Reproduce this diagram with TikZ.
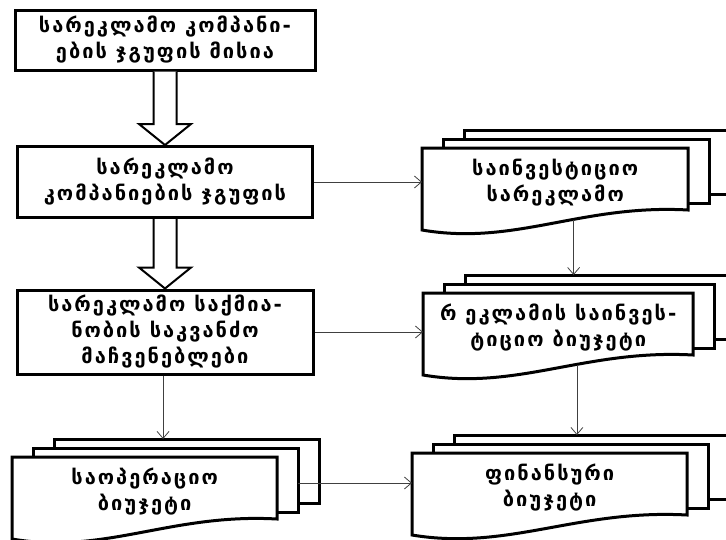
\documentclass[tikz,border=0pt]{standalone}
\usepackage{fontspec}
\newfontfamily\geofont[LetterSpace=10]{DejaVu Sans}
\usetikzlibrary{arrows.meta}
\usetikzlibrary{calc}

\tikzset{
  box/.style={draw, line width=3pt, fill=white, align=center, font=\geofont\bfseries\fontsize{20}{26}\selectfont},
  doclayer/.style={draw, line width=3pt, fill=white},
  doctext/.style={align=center, font=\geofont\bfseries\fontsize{20}{26}\selectfont},
  link/.style={-{Straight Barb[length=7pt,width=12pt]}, line width=0.8pt, black!75}
}

\newcommand{\docstack}[4]{%
  \begin{scope}[shift={#2}]
    \draw[doclayer] (42,-18) rectangle (#3+42,46);
    \draw[doclayer] (21,-9) rectangle (#3+21,55);
    \draw[doclayer] (0,0) -- (#3,0) -- (#3,62) .. controls (0.6*#3,56) and (0.35*#3,98) .. (0,82) -- cycle;
    \node[doctext, minimum width=#3, minimum height=68, anchor=north west] (#1) at (0,0) {#4};
    \coordinate (#1-in) at (0.57*#3,-18);
    \coordinate (#1-out) at (0.57*#3,72);
    \coordinate (#1-side) at (#3+21,26);
  \end{scope}}

\newcommand{\hollowarrow}[2]{%
  \draw[line width=2pt, fill=white] ($(#1.south)+(-11.5,0)$) -- ($(#2.north)+(-11.5,-21)$) -- ($(#2.north)+(-26,-21)$) -- (#2.north) -- ($(#2.north)+(26,-21)$) -- ($(#2.north)+(11.5,-21)$) -- ($(#1.south)+(11.5,0)$);}

\begin{document}
\begin{tikzpicture}[x=1pt, y=-1pt]
  \useasboundingbox (0,0) rectangle (726,539);
  \clip (0,0) rectangle (726,539);

  \node[box, minimum width=300, minimum height=60] (mission) at (165,40) {სარეკლამო კომპანი-\\ების ჯგუფის მისია};
  \node[box, minimum width=295, minimum height=71] (group) at (165,182) {სარეკლამო\\კომპანიების ჯგუფის};
  \node[box, minimum width=296, minimum height=84] (indic) at (165,332) {სარეკლამო საქმია-\\ნობის საკვანძო\\მაჩვენებლები};

  \docstack{opbud}{(12,457)}{265}{საოპერაციო\\ბიუჯეტი}
  \docstack{invadv}{(422,148)}{266}{საინვესტიციო\\სარეკლამო}
  \docstack{advbud}{(423,293)}{270}{რ ეკლამის საინვეს-\\ტიციო ბიუჯეტი}
  \docstack{finbud}{(412,453)}{275}{ფინანსური\\ბიუჯეტი}

  \hollowarrow{mission}{group}
  \hollowarrow{group}{indic}

  \draw[link] (group.east) -- (group.east -| invadv.west);
  \draw[link] (indic.east) -- (indic.east -| advbud.west);
  \draw[link] (indic.south -| opbud-in) -- (opbud-in);
  \draw[link] (invadv-out) -- (invadv-out |- advbud-in);
  \draw[link] (advbud-out) -- (advbud-out |- finbud-in);
  \draw[link] (opbud-side) -- (opbud-side -| finbud.west);
\end{tikzpicture}
\end{document}
